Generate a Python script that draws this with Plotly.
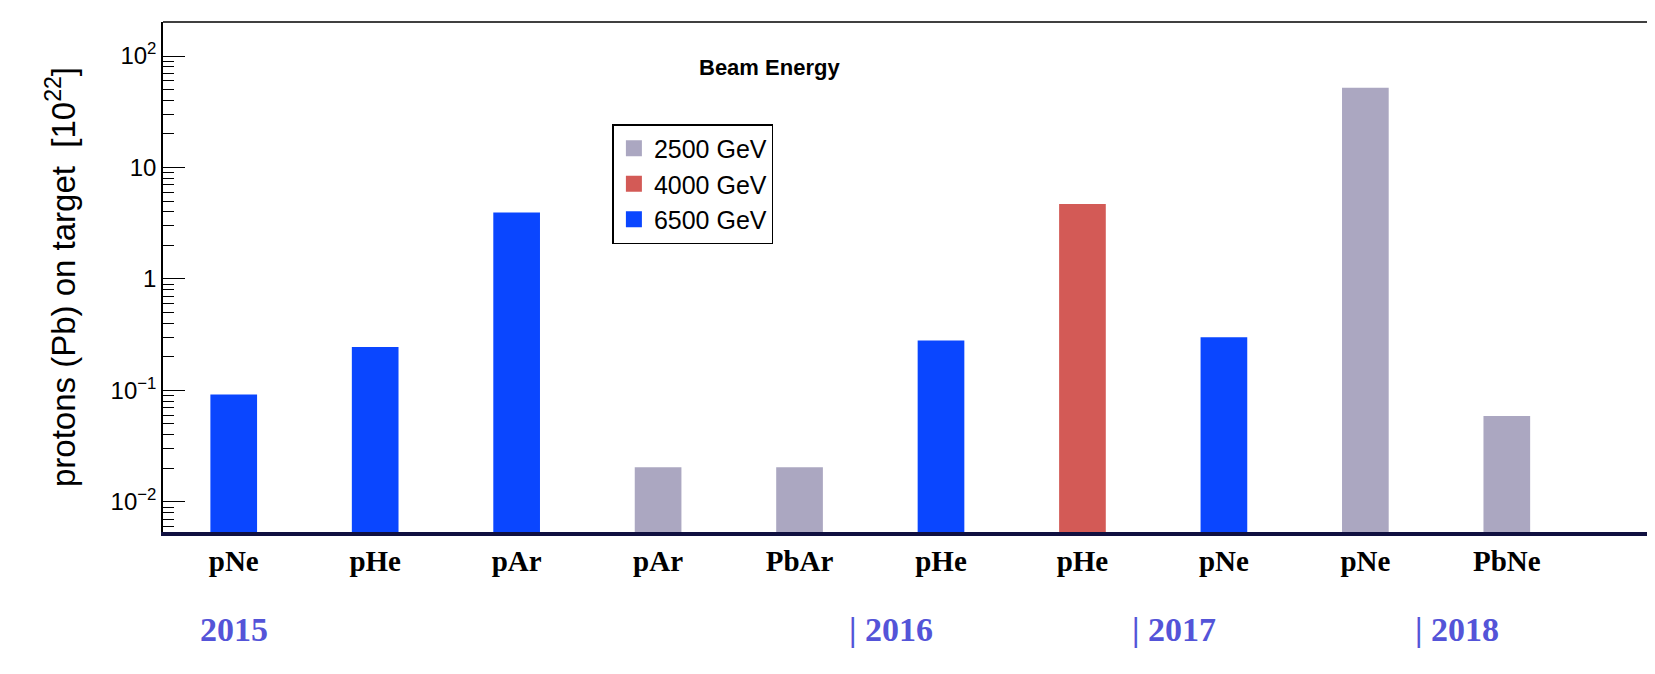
import plotly.graph_objects as go

targets = ["pNe", "pHe", "pAr", "pAr", "PbAr", "pHe", "pHe", "pNe", "pNe", "PbNe"]
pot = [0.092, 0.245, 3.95, 0.0205, 0.0205, 0.28, 4.7, 0.30, 52, 0.059]
energy = [6500, 6500, 6500, 2500, 2500, 6500, 4000, 6500, 2500, 2500]
years = ["2015", "| 2016", "| 2017", "| 2018"]
year_pos = [0.5, 5.15, 7.15, 9.15]

colors = {2500: "#aba7c1", 4000: "#d35a56", 6500: "#0a46ff"}
pos = [i + 0.5 for i in range(len(targets))]
minor_vals = [m * 10 ** d for d in range(-3, 3) for m in range(2, 10)]

fig = go.Figure()
for e in [2500, 4000, 6500]:
    xs = [p for p, en in zip(pos, energy) if en == e]
    ys = [v for v, en in zip(pot, energy) if en == e]
    fig.add_trace(go.Bar(x=xs, y=ys, width=0.33, name=f"{e} GeV", showlegend=False,
                         marker=dict(color=colors[e], line_width=0)))
    # legend entry with a big square swatch
    fig.add_trace(go.Scatter(x=[None], y=[None], mode="markers", name=f"{e} GeV",
                             marker=dict(symbol="square", size=40, color=colors[e])))

fig.update_layout(
    width=1655, height=674, plot_bgcolor="white", paper_bgcolor="white",
    margin=dict(l=155, r=0, t=14, b=150), barmode="overlay",
    font=dict(family="Liberation Sans", color="black"),
    legend=dict(x=0.3, y=0.8, xanchor="left", yanchor="top",
                bordercolor="black", borderwidth=1.5, font=dict(size=25),
                itemsizing="trace", tracegroupgap=30, bgcolor="white"),
)
fig.update_xaxes(range=[0, 10.59], tickvals=pos, ticktext=[f"<b>{t}</b>" for t in targets],
                 tickfont=dict(family="Liberation Serif", size=29, color="black"),
                 showgrid=False, ticks="", showline=True, linecolor="#101040",
                 linewidth=4, mirror=False)
fig.update_yaxes(type="log", range=[-2.27, 2.305],
                 tickvals=[0.01, 0.1, 1, 10, 100],
                 ticktext=["10<sup>−2</sup>", "10<sup>−1</sup>", "1", "10", "10<sup>2</sup>"],
                 tickfont=dict(size=24), ticks="inside", ticklen=22, tickcolor="black",
                 minor=dict(ticks="inside", ticklen=11, tickcolor="black",
                            tickmode="array", tickvals=minor_vals),
                 showgrid=False, showline=True, linecolor="black", linewidth=1.5,
                 mirror=True,
                 title=dict(text="protons (Pb) on target  [10<sup>22</sup>]",
                            font=dict(size=33), standoff=25))
fig.add_shape(type="line", xref="paper", yref="paper", x0=0, x1=1, y0=1, y1=1,
              line=dict(color="black", width=1.5))
fig.add_annotation(x=0.405, y=0.94, xref="paper", yref="paper", text="<b>Beam Energy</b>",
                   showarrow=False, font=dict(size=22))
for yr, xp in zip(years, year_pos):
    fig.add_annotation(x=xp, y=-0.15, xref="x", yref="paper", text=f"<b>{yr}</b>",
                       showarrow=False, xanchor="center", yanchor="top",
                       font=dict(family="Liberation Serif", size=34, color="#5454d8"))
fig.write_html("out.html")
